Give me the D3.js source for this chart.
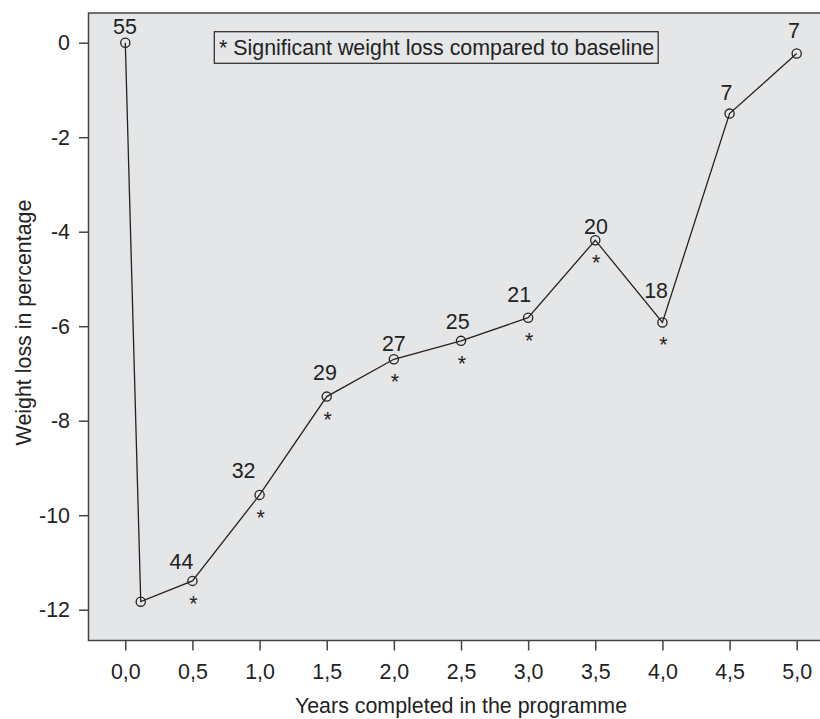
<!DOCTYPE html>
<html>
<head>
<meta charset="utf-8">
<script src="https://cdn.jsdelivr.net/npm/d3@7"></script>
<style>
  body { margin: 0; background: #fff; }
  svg { display: block; font-family: "Liberation Sans", Arial, sans-serif; }
</style>
</head>
<body>
<div id="chart"></div>
<script>
// data
const years = [0, 0.115, 0.5, 1.0, 1.5, 2.0, 2.5, 3.0, 3.5, 4.0, 4.5, 5.0];
const weightLoss = [0, -11.83, -11.39, -9.57, -7.49, -6.70, -6.31, -5.82, -4.18, -5.92, -1.50, -0.23];
const nLabels = ['55', '', '44', '32', '29', '27', '25', '21', '20', '18', '7', '7'];
const significant = [false, false, true, true, true, true, true, true, true, true, false, false];

const xTicks = [0, 0.5, 1, 1.5, 2, 2.5, 3, 3.5, 4, 4.5, 5];
const yTicks = [0, -2, -4, -6, -8, -10, -12];
const legendText = '* Significant weight loss compared to baseline';
const xTitle = 'Years completed in the programme';
const yTitle = 'Weight loss in percentage';

const dims = {width: 820, height: 719};
const frame = {left: 88.5, top: 13, right: 832, bottom: 640.5};
const ink = '#222';
const fontSize = 21.4;

const svg = d3.select('#chart')
    .append('svg')
    .attr('width', dims.width)
    .attr('height', dims.height);

const x = d3.scaleLinear().domain([0, 5]).range([125.3, 796.7]);
const y = d3.scaleLinear().domain([0, -12]).range([42.7, 609.7]);

const commaFmt = d => d3.format('.1f')(d).replace('.', ',').replace('−', '-');

// plot background + frame
svg.append('rect')
    .attr('x', frame.left)
    .attr('y', frame.top)
    .attr('width', frame.right - frame.left)
    .attr('height', frame.bottom - frame.top)
    .attr('fill', '#e5e6e8')
    .attr('stroke', '#444')
    .attr('stroke-width', 1.5);

// axes
const xAxis = svg.append('g')
    .attr('transform', `translate(0, ${frame.bottom})`)
    .call(d3.axisBottom(x).tickValues(xTicks).tickFormat(commaFmt).tickSize(10).tickPadding(13));

const yAxis = svg.append('g')
    .attr('transform', `translate(${frame.left}, 0)`)
    .call(d3.axisLeft(y).tickValues(yTicks).tickFormat(d => String(d)).tickSize(9.5).tickPadding(9));

[xAxis, yAxis].forEach(g => {
    g.select('.domain').remove();
    g.selectAll('.tick line').attr('stroke', '#444').attr('stroke-width', 1.5);
    g.selectAll('.tick text')
        .attr('fill', ink)
        .style('font-size', fontSize + 'px')
        .style('font-family', '"Liberation Sans", Arial, sans-serif');
});

// axis titles
svg.append('text')
    .attr('x', x(2.5))
    .attr('y', 712.5)
    .attr('text-anchor', 'middle')
    .attr('fill', ink)
    .style('font-size', fontSize + 'px')
    .text(xTitle);

svg.append('text')
    .attr('transform', `translate(31, 322.5) rotate(-90)`)
    .attr('text-anchor', 'middle')
    .attr('fill', ink)
    .style('font-size', fontSize + 'px')
    .text(yTitle);

// legend box
const legend = svg.append('g');
const legendLabel = legend.append('text')
    .attr('x', 219)
    .attr('y', 55)
    .attr('fill', ink)
    .style('font-size', fontSize + 'px')
    .text(legendText);
const bb = legendLabel.node().getBBox();
legend.insert('rect', 'text')
    .attr('x', 214.3)
    .attr('y', 31.7)
    .attr('width', bb.x + bb.width + 4 - 214.3)
    .attr('height', 31.6)
    .attr('fill', 'none')
    .attr('stroke', '#333')
    .attr('stroke-width', 1.3);

// line + markers
const points = years.map((d, i) => ({
    year: d, value: weightLoss[i], n: nLabels[i], sig: significant[i]
}));

const line = d3.line()
    .x(d => x(d.year))
    .y(d => y(d.value));

svg.append('path')
    .datum(points)
    .attr('d', line)
    .attr('fill', 'none')
    .attr('stroke', ink)
    .attr('stroke-width', 1.3);

svg.selectAll('circle.pt')
    .data(points)
    .enter()
    .append('circle')
        .attr('class', 'pt')
        .attr('cx', d => x(d.year))
        .attr('cy', d => y(d.value))
        .attr('r', 4.6)
        .attr('fill', 'none')
        .attr('stroke', ink)
        .attr('stroke-width', 1.3);

// sample size labels, nudged like the original
const nudge = [[-0.3, -8.4], [0, 0], [-11, -12], [-16, -17], [-1.7, -17], [0, -8.6],
               [-3.3, -11.4], [-9, -15.4], [0.7, -6.3], [-6.3, -24.6], [-3, -13.7], [-2.7, -15.4]];

svg.selectAll('text.n')
    .data(points)
    .enter()
    .append('text')
        .attr('class', 'n')
        .attr('x', (d, i) => x(d.year) + nudge[i][0])
        .attr('y', (d, i) => y(d.value) + nudge[i][1])
        .attr('text-anchor', 'middle')
        .attr('fill', ink)
        .style('font-size', fontSize + 'px')
        .text(d => d.n);

// significance stars
svg.selectAll('text.star')
    .data(points.filter(d => d.sig))
    .enter()
    .append('text')
        .attr('class', 'star')
        .attr('x', d => x(d.year) + 1)
        .attr('y', d => y(d.value) + 30)
        .attr('text-anchor', 'middle')
        .attr('fill', ink)
        .style('font-size', fontSize + 'px')
        .text('*');
</script>
</body>
</html>
